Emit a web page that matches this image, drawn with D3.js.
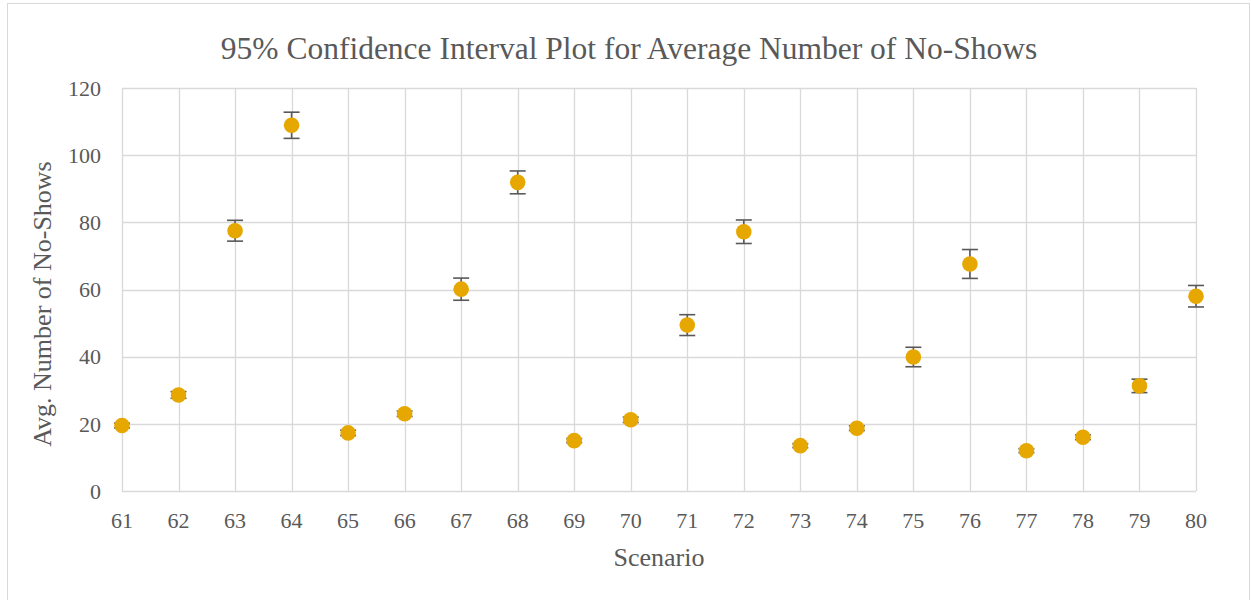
<!DOCTYPE html>
<html>
<head>
<meta charset="utf-8">
<script src="https://cdn.jsdelivr.net/npm/d3@7"></script>
<style>
  body { margin: 0; background: #fff; }
  text { font-family: "Liberation Serif", "Times New Roman", serif; fill: #595959; }
</style>
</head>
<body>
<svg width="1251" height="600"></svg>
<script>
// scenarios and their mean / half-width of the 95% CI
var scenarios = [61, 62, 63, 64, 65, 66, 67, 68, 69, 70, 71, 72, 73, 74, 75, 76, 77, 78, 79, 80];
var means = [19.5, 28.6, 77.5, 108.9, 17.3, 23.0, 60.1, 91.9, 15.0, 21.2, 49.4, 77.2, 13.5, 18.7, 39.9, 67.6, 12.0, 16.0, 31.3, 58.0];
var halfWidths = [0.7, 1.0, 3.1, 3.9, 0.8, 0.8, 3.3, 3.4, 0.6, 0.8, 3.1, 3.5, 0.6, 0.7, 2.9, 4.3, 0.6, 0.7, 2.0, 3.2];
var yTicks = [0, 20, 40, 60, 80, 100, 120];

var svg = d3.select("svg"),
    width = +svg.attr("width"),
    height = +svg.attr("height");

var plotLeft = 122, plotRight = 1196, plotTop = 88, plotBottom = 491;

var x = d3.scaleLinear().domain([61, 80]).range([plotLeft, plotRight]);
var y = d3.scaleLinear().domain([0, 120]).range([plotBottom, plotTop]);

var data = scenarios.map(function(s, i) {
  return { s: s, m: means[i], e: halfWidths[i] };
});

// chart area border
svg.append("rect")
  .attr("x", 7.5).attr("y", 3.5)
  .attr("width", 1242).attr("height", 600)
  .attr("fill", "none").attr("stroke", "#d9d9d9");

// gridlines
svg.append("g").selectAll("line")
  .data(yTicks).enter().append("line")
    .attr("x1", plotLeft).attr("x2", plotRight)
    .attr("y1", function(d) { return Math.round(y(d)) + 0.5; })
    .attr("y2", function(d) { return Math.round(y(d)) + 0.5; })
    .attr("stroke", "#d9d9d9").attr("stroke-width", 1.3);

svg.append("g").selectAll("line")
  .data(scenarios).enter().append("line")
    .attr("x1", function(d) { return Math.round(x(d)) + 0.5; })
    .attr("x2", function(d) { return Math.round(x(d)) + 0.5; })
    .attr("y1", plotTop).attr("y2", plotBottom)
    .attr("stroke", "#d9d9d9").attr("stroke-width", 1.3);

// tick labels
svg.append("g").selectAll("text")
  .data(yTicks).enter().append("text")
    .attr("x", plotLeft - 21).attr("y", function(d) { return y(d); })
    .attr("dy", "0.35em")
    .attr("text-anchor", "end")
    .attr("font-size", "22px")
    .text(function(d) { return d; });

svg.append("g").selectAll("text")
  .data(scenarios).enter().append("text")
    .attr("x", function(d) { return x(d); }).attr("y", plotBottom + 37)
    .attr("text-anchor", "middle")
    .attr("font-size", "22px")
    .text(function(d) { return d; });

// titles
svg.append("text")
  .attr("x", 629).attr("y", 59)
  .attr("text-anchor", "middle")
  .attr("font-size", "31.5px")
  .text("95% Confidence Interval Plot for Average Number of No-Shows");

svg.append("text")
  .attr("x", 659).attr("y", 566)
  .attr("text-anchor", "middle")
  .attr("font-size", "26px")
  .text("Scenario");

svg.append("text")
  .attr("transform", "translate(51," + 304 + ") rotate(-90)")
  .attr("text-anchor", "middle")
  .attr("font-size", "26px")
  .text("Avg. Number of No-Shows");

// error bars
var err = svg.append("g")
  .attr("stroke", "#595959").attr("stroke-width", 1.6).attr("fill", "none");

err.selectAll(".stem")
  .data(data).enter().append("line")
    .attr("x1", function(d) { return x(d.s); })
    .attr("x2", function(d) { return x(d.s); })
    .attr("y1", function(d) { return y(d.m + d.e); })
    .attr("y2", function(d) { return y(d.m - d.e); });

err.selectAll(".capTop")
  .data(data).enter().append("line")
    .attr("x1", function(d) { return x(d.s) - 8; })
    .attr("x2", function(d) { return x(d.s) + 8; })
    .attr("y1", function(d) { return y(d.m + d.e); })
    .attr("y2", function(d) { return y(d.m + d.e); });

err.selectAll(".capBot")
  .data(data).enter().append("line")
    .attr("x1", function(d) { return x(d.s) - 8; })
    .attr("x2", function(d) { return x(d.s) + 8; })
    .attr("y1", function(d) { return y(d.m - d.e); })
    .attr("y2", function(d) { return y(d.m - d.e); });

// markers
svg.append("g").selectAll("circle")
  .data(data).enter().append("circle")
    .attr("cx", function(d) { return x(d.s); })
    .attr("cy", function(d) { return y(d.m); })
    .attr("r", 7.8)
    .attr("fill", "#e6a800");
</script>
</body>
</html>
